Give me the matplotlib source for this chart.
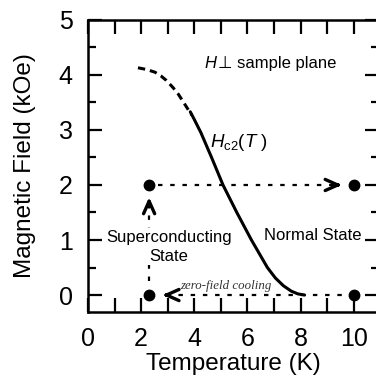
import matplotlib
matplotlib.use("Agg")
import matplotlib.pyplot as plt

plt.rcParams['font.family'] = ['Liberation Sans', 'DejaVu Sans']
plt.rcParams['mathtext.fontset'] = 'custom'
plt.rcParams['mathtext.rm'] = 'Liberation Sans'
plt.rcParams['mathtext.it'] = 'Liberation Sans:italic'

# -------------------------------
# Data
# -------------------------------
# Hc2(T): dashed (extrapolated) part and measured solid part
t_dash = [1.88, 2.2, 2.52, 2.75, 2.95, 3.2, 3.4, 3.6, 3.9]
h_dash = [4.13, 4.1, 4.05, 3.98, 3.9, 3.77, 3.65, 3.5, 3.27]
t_solid = [3.85, 4.0, 4.25, 4.65, 5.08, 5.6, 6.15, 6.45, 6.75, 7.05,
           7.35, 7.65, 7.9, 8.15]
h_solid = [3.33, 3.19, 2.95, 2.5, 2.0, 1.5, 1.0, 0.75, 0.5, 0.31,
           0.17, 0.07, 0.02, 0.0]

# measurement points
pt_t = [2.3, 10, 2.3, 10]
pt_h = [2, 2, 0, 0]

# field-cooling paths
path_low_t = [10, 2.75]      # zero-field cooling at H = 0
path_high_t = [2.65, 9.5]    # warming at H = 2 kOe
path_up_h = [0.25, 1.7]      # field applied at T = 2.3 K

xticks = [0, 2, 4, 6, 8, 10]
yticks = [0, 1, 2, 3, 4, 5]

# -------------------------------
# Figure
# -------------------------------
fig = plt.figure(figsize=(3.76, 3.76), dpi=100)
ax = fig.add_axes([0.234, 0.170, 0.774, 0.777])

ax.plot(t_dash, h_dash, color='black', lw=2.2, linestyle=(0, (2.4, 1.6)))
ax.plot(t_solid, h_solid, color='black', lw=2.2, solid_capstyle='round',
        solid_joinstyle='round')

dot = (0, (2.0, 3.5))
ax.plot(path_low_t, [0, 0], color='black', lw=1.6, linestyle=dot)
ax.plot(path_high_t, [2, 2], color='black', lw=1.6, linestyle=dot)
ax.plot([2.3, 2.3], path_up_h, color='black', lw=1.6, linestyle=dot)

head = dict(arrowstyle='->,head_length=0.9,head_width=0.4', lw=2.4,
            color='black', shrinkA=0, shrinkB=0)
ax.annotate('', xy=(9.55, 2), xytext=(9.3, 2), arrowprops=head)
ax.annotate('', xy=(2.8, 0), xytext=(3.05, 0), arrowprops=head)
ax.annotate('', xy=(2.3, 1.78), xytext=(2.3, 1.6), arrowprops=head)

ax.plot(pt_t, pt_h, 'o', color='black', ms=7.5, zorder=5)

# -------------------------------
# Text
# -------------------------------
ax.text(3.05, 0.88, 'Superconducting\nState', ha='center', va='center',
        fontsize=12, linespacing=1.35,
        bbox=dict(facecolor='white', edgecolor='none', pad=1), zorder=3)
ax.text(8.45, 1.08, 'Normal State', ha='center', va='center', fontsize=12)
ax.text(5.2, 0.17, 'zero-field cooling', ha='center', va='center',
        fontsize=9.3, style='italic', family='Liberation Serif', color='#333333')
ax.text(4.4, 4.2, 'H', ha='left', va='center', fontsize=12, style='italic')
ax.text(4.88, 4.2, '⊥ sample plane', ha='left', va='center', fontsize=12)
ax.text(4.6, 2.78, r'$H_{\mathrm{c2}}(T\ )$', ha='left', va='center', fontsize=13.5)

# -------------------------------
# Axes
# -------------------------------
ax.set_xlim(0, 10.95)
ax.set_ylim(-0.31, 5)
ax.set_xticks(xticks)
ax.set_xticks(range(0, 11), minor=True)
ax.set_yticks(yticks)
ax.set_yticks([v + 0.5 for v in range(0, 5)], minor=True)

ax.tick_params(which='both', direction='in', top=True, right=True,
               width=1.6, labelsize=18, pad=11)
ax.tick_params(axis='x', which='both', length=10)
ax.tick_params(axis='y', which='major', length=10)
ax.tick_params(axis='y', which='minor', length=6)
for s in ax.spines.values():
    s.set_linewidth(1.8)

ax.set_xlabel('Temperature (K)', fontsize=17.5, labelpad=1)
ax.set_ylabel('Magnetic Field (kOe)', fontsize=17.5, labelpad=16)

fig.savefig('out.png', dpi=100)
